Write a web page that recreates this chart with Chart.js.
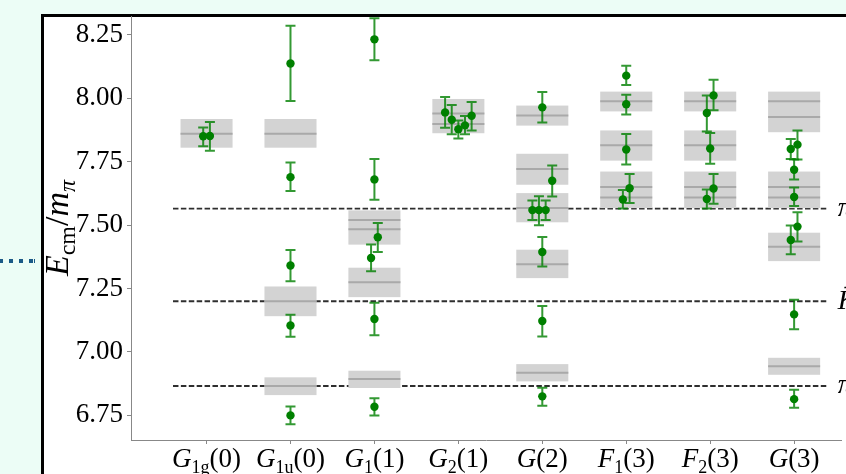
<!DOCTYPE html>
<html>
<head>
<meta charset="utf-8">
<script src="https://cdn.jsdelivr.net/npm/chart.js@4.4.0/dist/chart.umd.min.js"></script>
<style>
  html, body { margin: 0; padding: 0; }
  body { width: 846px; height: 474px; overflow: hidden; background: #ecfdf6; position: relative; }
  #frame { position: absolute; left: 41px; top: 14px; right: -10px; bottom: -10px; background: #fff;
           border-left: 3px solid #000; border-top: 3px solid #000; }
  #dots { position: absolute; left: 0; top: 259px; width: 35px; height: 4px;
          background: repeating-linear-gradient(90deg, #1b5a87 0 4px, transparent 4px 10px);
          background-position: -1px 0; }
  #wrap { position: absolute; left: 0; top: 0; width: 846px; height: 474px; }
</style>
</head>
<body>
<div id="frame"></div>
<div id="dots"></div>
<div id="wrap"><canvas id="levelsChart" width="846" height="474"></canvas></div>
<script>
// irreps on the x axis (drawn as G_{sub}(arg))
const categories = ["G1g(0)", "G1u(0)", "G1(1)", "G2(1)", "G(2)", "F1(3)", "F2(3)", "G(3)"];
const tickBase = ["G", "G", "G", "G", "G", "F", "F", "G"];
const tickSub = ["1g", "1u", "1", "2", "", "1", "2", ""];
const tickArg = ["(0)", "(0)", "(1)", "(1)", "(2)", "(3)", "(3)", "(3)"];
const yTicks = [6.75, 7.00, 7.25, 7.50, 7.75, 8.00, 8.25];

// thresholds (dashed lines)
const thresholdVals = [7.565, 7.200, 6.866];
const thresholdLabels = ["ππ", "K̄K", "ππ"];

// non-interacting levels: grey bands and their centre lines
const boxCat  = [0, 1, 1, 1, 2, 2, 2, 3, 4, 4, 4, 4, 4, 5, 5, 5, 6, 6, 6, 7, 7, 7, 7];
const boxLow  = [7.805, 7.805, 7.141, 6.830, 7.423, 7.216, 6.858, 7.862, 7.892, 7.659, 7.511, 7.291, 6.884,
                 7.948, 7.754, 7.567, 7.948, 7.754, 7.567, 7.866, 7.567, 7.358, 6.910];
const boxHigh = [7.918, 7.918, 7.258, 6.900, 7.558, 7.332, 6.926, 7.997, 7.971, 7.781, 7.626, 7.403, 6.952,
                 8.026, 7.873, 7.711, 8.026, 7.873, 7.711, 8.026, 7.711, 7.470, 6.977];
const lineCat = [0, 1, 1, 1, 2, 2, 2, 2, 3, 3, 4, 4, 4, 4, 4, 5, 5, 5, 5, 6, 6, 6, 6, 7, 7, 7, 7, 7, 7];
const lineVal = [7.860, 7.860, 7.200, 6.866, 7.520, 7.484, 7.275, 6.893, 7.940, 7.898,
                 7.932, 7.721, 7.567, 7.346, 6.918, 7.988, 7.815, 7.650, 7.609,
                 7.988, 7.815, 7.650, 7.609, 7.988, 7.926, 7.650, 7.609, 7.415, 6.944];

// lattice energies with error bars
const ptCat   = [0, 0, 1, 1, 1, 1, 1, 2, 2, 2, 2, 2, 2, 3, 3, 3, 3, 3,
                 4, 4, 4, 4, 4, 4, 4, 4, 5, 5, 5, 5, 5, 6, 6, 6, 6, 6, 7, 7, 7, 7, 7, 7, 7, 7];
const ptShift = [-0.04, 0.04, 0, 0, 0, 0, 0, 0, 0, 0.04, -0.04, 0, 0, -0.158, -0.079, 0, 0.079, 0.158,
                 0, 0.118, -0.118, -0.04, 0.04, 0, 0, 0, 0, 0, 0, -0.04, 0.04, 0.04, -0.04, 0, -0.04, 0.04,
                 -0.04, 0.04, 0, 0, -0.04, 0.04, 0, 0];
const ptVal   = [7.850, 7.851, 8.137, 7.689, 7.341, 7.104, 6.750, 8.232, 7.680, 7.452, 7.370, 7.130, 6.784,
                 7.944, 7.915, 7.878, 7.893, 7.931,
                 7.964, 7.675, 7.559, 7.559, 7.559, 7.394, 7.122, 6.825,
                 8.089, 7.976, 7.798, 7.601, 7.645, 8.011, 7.942, 7.802, 7.603, 7.644,
                 7.800, 7.817, 7.718, 7.611, 7.441, 7.494, 7.148, 6.814];
const ptLow   = [7.811, 7.793, 7.989, 7.634, 7.279, 7.060, 6.715, 8.150, 7.600, 7.394, 7.318, 7.066, 6.750,
                 7.884, 7.858, 7.841, 7.858, 7.873,
                 7.904, 7.613, 7.520, 7.499, 7.520, 7.337, 7.061, 6.788,
                 8.052, 7.936, 7.739, 7.565, 7.587, 7.953, 7.869, 7.742, 7.565, 7.584,
                 7.760, 7.758, 7.680, 7.575, 7.385, 7.435, 7.089, 6.780];
const ptHigh  = [7.885, 7.906, 8.286, 7.747, 7.402, 7.147, 6.785, 8.315, 7.760, 7.508, 7.423, 7.194, 6.818,
                 8.005, 7.973, 7.912, 7.930, 7.985,
                 8.024, 7.735, 7.597, 7.614, 7.597, 7.453, 7.181, 6.859,
                 8.128, 8.014, 7.859, 7.638, 7.701, 8.073, 8.011, 7.863, 7.640, 7.701,
                 7.839, 7.873, 7.758, 7.648, 7.498, 7.551, 7.206, 6.851];

const HALF = 0.31;
const SERIF = '"Liberation Serif", "Times New Roman", serif';

const levelData = [];
lineCat.forEach((c, i) => {
    levelData.push({ x: c - HALF, y: lineVal[i] }, { x: c + HALF, y: lineVal[i] }, { x: c, y: null });
});
const thresholdData = [];
thresholdVals.forEach(v => {
    thresholdData.push({ x: -0.4, y: v }, { x: 7.4, y: v }, { x: 0, y: null });
});

function drawParts(ctx, parts, x, y) {
    let cx = x;
    parts.forEach(p => {
        ctx.font = p.f;
        ctx.fillText(p.t, cx, y + (p.dy || 0));
        cx += ctx.measureText(p.t).width;
    });
    return cx - x;
}
function partsWidth(ctx, parts) {
    let w = 0;
    parts.forEach(p => { ctx.font = p.f; w += ctx.measureText(p.t).width; });
    return w;
}

const extras = {
    id: "extras",
    afterDatasetDraw(chart, args) {
        const { ctx, scales: { x, y } } = chart;
        const name = chart.data.datasets[args.index].label;
        if (name === "thresholds") {
            ctx.save();
            ctx.fillStyle = "rgb(211,211,211)";
            boxCat.forEach((c, i) => {
                const x0 = x.getPixelForValue(c - HALF), x1 = x.getPixelForValue(c + HALF);
                const y0 = y.getPixelForValue(boxHigh[i]), y1 = y.getPixelForValue(boxLow[i]);
                ctx.fillRect(x0, y0, x1 - x0, y1 - y0);
            });
            ctx.restore();
        }
        if (name === "levels") {
            ctx.save();
            ctx.strokeStyle = "rgba(0,128,0,0.8)";
            ctx.lineWidth = 2;
            ptCat.forEach((c, i) => {
                const px = x.getPixelForValue(c + ptShift[i]);
                const yl = y.getPixelForValue(ptLow[i]), yh = y.getPixelForValue(ptHigh[i]);
                ctx.beginPath();
                ctx.moveTo(px, yl); ctx.lineTo(px, yh);
                ctx.moveTo(px - 5, yl); ctx.lineTo(px + 5, yl);
                ctx.moveTo(px - 5, yh); ctx.lineTo(px + 5, yh);
                ctx.stroke();
            });
            ctx.restore();
        }
    },
    afterDraw(chart) {
        const { ctx, scales: { x, y }, chartArea } = chart;
        ctx.save();
        ctx.fillStyle = "#000";
        ctx.textBaseline = "alphabetic";
        // x tick labels
        categories.forEach((c, i) => {
            const parts = [
                { t: tickBase[i], f: "italic 27px " + SERIF },
                { t: tickSub[i], f: "18px " + SERIF, dy: 6 },
                { t: tickArg[i], f: "27px " + SERIF }
            ];
            const w = partsWidth(ctx, parts);
            drawParts(ctx, parts, x.getPixelForValue(i) - w / 2, chartArea.bottom + 27);
        });
        // threshold labels on the right
        ctx.textBaseline = "middle";
        thresholdVals.forEach((v, i) => {
            ctx.font = "italic 28px " + SERIF;
            ctx.fillText(thresholdLabels[i], x.getPixelForValue(7.52), y.getPixelForValue(v));
        });
        // y axis title E_cm / m_pi
        ctx.textBaseline = "alphabetic";
        const title = [
            { t: "E", f: "italic 34px " + SERIF },
            { t: "cm", f: "24px " + SERIF, dy: 7 },
            { t: "/", f: "34px " + SERIF },
            { t: "m", f: "italic 34px " + SERIF },
            { t: "π", f: "italic 24px " + SERIF, dy: 7 }
        ];
        const tw = partsWidth(ctx, title);
        const mid = (chartArea.top + chartArea.bottom) / 2;
        ctx.translate(68, mid + tw / 2);
        ctx.rotate(-Math.PI / 2);
        drawParts(ctx, title, 0, 0);
        ctx.restore();
    }
};

const ctx = document.getElementById("levelsChart").getContext("2d");
const levelsChart = new Chart(ctx, {
    data: {
        datasets: [
            {
                type: "scatter",
                label: "energies",
                data: ptCat.map((c, i) => ({ x: c + ptShift[i], y: ptVal[i] })),
                backgroundColor: "#008000",
                borderColor: "#008000",
                pointRadius: 4.2,
                pointBorderWidth: 0,
            },
            {
                type: "line",
                label: "levels",
                data: levelData,
                borderColor: "rgb(169,169,169)",
                borderWidth: 2,
                pointRadius: 0,
                spanGaps: false,
                fill: false,
            },
            {
                type: "line",
                label: "thresholds",
                data: thresholdData,
                borderColor: "rgba(0,0,0,0.82)",
                borderWidth: 1.9,
                borderDash: [5.5, 2.4],
                pointRadius: 0,
                spanGaps: false,
                fill: false,
            },
        ],
    },
    options: {
        responsive: false,
        animation: false,
        events: [],
        layout: { padding: { top: 16, left: 0, right: 0, bottom: 0 } },
        plugins: { legend: { display: false }, tooltip: { enabled: false } },
        scales: {
            x: {
                type: "linear",
                min: -0.9,
                max: 7.568,
                afterBuildTicks: s => { s.ticks = categories.map((c, i) => ({ value: i })); },
                ticks: { callback: () => "", font: { size: 10 } },
                grid: { drawOnChartArea: false, tickLength: 4, color: "#888" },
                border: { color: "#888", width: 1 },
                afterFit: s => { s.height = 34; s.paddingLeft = 0; s.paddingRight = 0; },
            },
            y: {
                type: "linear",
                min: 6.653,
                max: 8.324,
                afterBuildTicks: s => { s.ticks = yTicks.map(v => ({ value: v })); },
                ticks: {
                    font: { family: SERIF, size: 27 },
                    color: "#000",
                    padding: 4,
                    callback: v => v.toFixed(2),
                },
                grid: { drawOnChartArea: false, tickLength: 4, color: "#888" },
                border: { color: "#888", width: 1 },
                afterFit: s => { s.width = 131; s.paddingTop = 0; s.paddingBottom = 0; },
            },
        },
    },
    plugins: [extras],
});
</script>
</body>
</html>
